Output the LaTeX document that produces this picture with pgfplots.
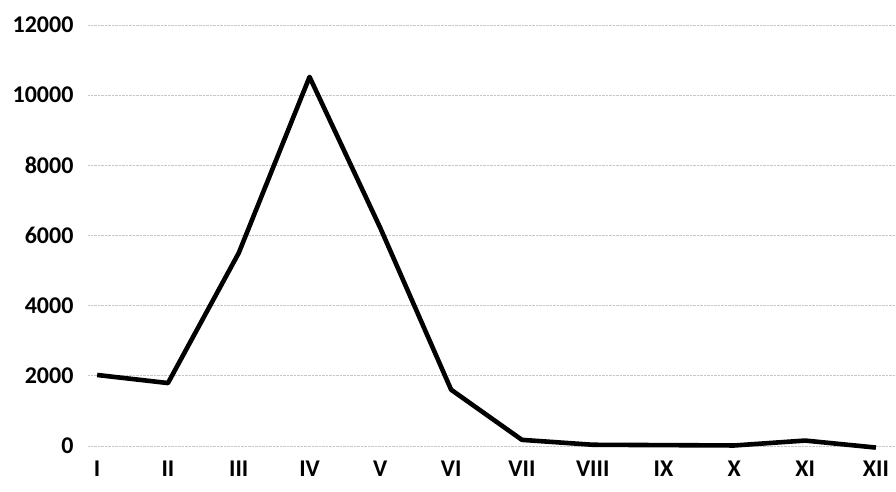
\documentclass[border=0pt]{standalone}
\usepackage{pgfplots}
\pgfplotsset{compat=1.18}
\usepackage{fontspec}
\setmainfont{Carlito}
\begin{document}
\begin{tikzpicture}
\begin{axis}[
    scale only axis,
    width=808pt, height=431.5pt,
    xmin=-0.13, xmax=11.28,
    ymin=-300, ymax=12000,
    axis line style={draw=none},
    xtick={0,...,11},
    xticklabels={I,II,III,IV,V,VI,VII,VIII,IX,X,XI,XII},
    ytick={0,2000,...,12000},
    scaled y ticks=false,
    ymajorgrids,
    grid style={gray!45, densely dotted, line width=0.6pt},
    major tick length=0pt,
    /pgf/number format/assume math mode=true,
    /pgf/number format/1000 sep={},
    tick label style={font=\fontsize{24}{28}\selectfont\bfseries},
    yticklabel style={xshift=-11pt},
    xticklabel style={yshift=-1pt},
    clip=false,
]
\addplot[black, line width=4.6pt, line join=round] coordinates {
    (0,2020) (1,1790) (2,5500) (3,10520) (4,6210) (5,1600)
    (6,170) (7,30) (8,20) (9,10) (10,150) (11,-50)
};
\end{axis}
\path (current axis.south west) ++(-88pt,-35.5pt) (current axis.north east) ++(0pt,25pt);
\end{tikzpicture}
\end{document}
